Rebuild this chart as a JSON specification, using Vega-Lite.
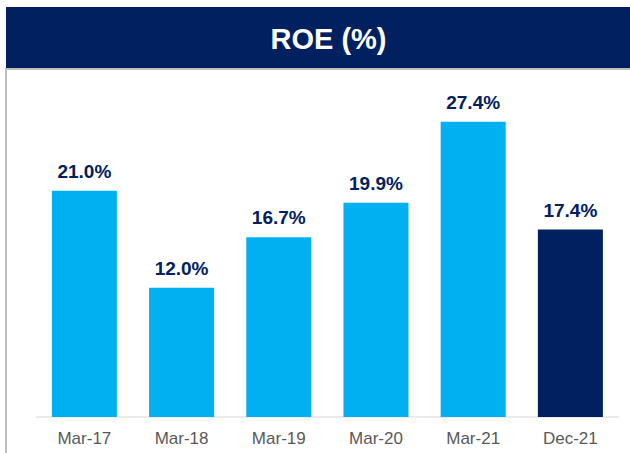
{
  "$schema": "https://vega.github.io/schema/vega-lite/v6.json",
  "padding": {"left": 5, "top": 7, "right": 0, "bottom": 0},
  "spacing": 0,
  "background": "white",
  "config": {
    "font": "Liberation Sans",
    "view": {"stroke": null},
    "concat": {"spacing": 0}
  },
  "datasets": {
    "roe": [
      {"cat": "Mar-17", "v": 21.0, "lab": "21.0%"},
      {"cat": "Mar-18", "v": 12.0, "lab": "12.0%"},
      {"cat": "Mar-19", "v": 16.7, "lab": "16.7%"},
      {"cat": "Mar-20", "v": 19.9, "lab": "19.9%"},
      {"cat": "Mar-21", "v": 27.4, "lab": "27.4%"},
      {"cat": "Dec-21", "v": 17.4, "lab": "17.4%"}
    ],
    "head": [{"t": "ROE (%)"}]
  },
  "vconcat": [
    {
      "width": 625,
      "height": 61,
      "view": {"fill": "#002060", "stroke": null},
      "data": {"name": "head"},
      "mark": {"type": "text", "color": "white", "fontSize": 29, "fontWeight": "bold", "align": "center", "baseline": "middle", "dx": 10, "dy": 2},
      "encoding": {"text": {"field": "t", "type": "nominal"}}
    },
    {
      "width": 625,
      "height": 402,
      "view": {"stroke": "#bfbfbf", "strokeWidth": 2, "fill": "white"},
      "data": {"name": "roe"},
      "encoding": {
        "x": {"field": "cat", "type": "nominal", "sort": null, "axis": null,
              "scale": {"paddingInner": 0.331, "paddingOuter": 0.3805, "align": 0.62, "round": false}}
      },
      "layer": [
        {
          "mark": {"type": "tick", "orient": "horizontal", "size": 97.2, "thickness": 1.5, "color": "#d9d9d9"},
          "encoding": {"y": {"datum": 0, "type": "quantitative", "scale": {"domain": [-5, 32.3], "nice": false, "zero": false}, "axis": null}}
        },
        {
          "mark": {"type": "bar"},
          "encoding": {
            "y": {"field": "v", "type": "quantitative", "axis": null},
            "color": {"condition": {"test": "datum.cat === 'Dec-21'", "value": "#002060"}, "value": "#00b0f0"}
          }
        },
        {
          "mark": {"type": "text", "color": "#002060", "fontSize": 19, "fontWeight": "bold", "baseline": "middle", "dy": -19},
          "encoding": {
            "y": {"field": "v", "type": "quantitative"},
            "text": {"field": "lab", "type": "nominal"}
          }
        },
        {
          "mark": {"type": "text", "color": "#595959", "fontSize": 17, "baseline": "middle"},
          "encoding": {
            "y": {"datum": -2, "type": "quantitative"},
            "text": {"field": "cat", "type": "nominal"}
          }
        }
      ]
    }
  ]
}
